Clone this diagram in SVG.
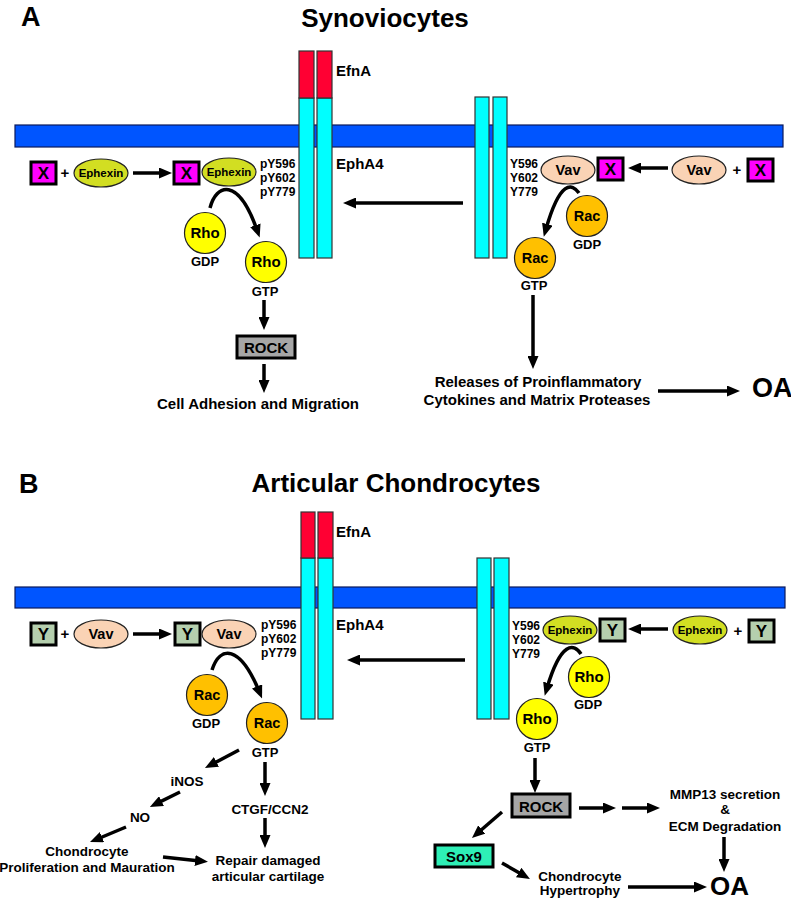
<svg xmlns="http://www.w3.org/2000/svg" width="791" height="900" viewBox="0 0 791 900">
<defs>
<style>
text{font-family:"Liberation Sans",Arial,sans-serif;font-weight:bold;fill:#000}
.mem{fill:#0055FF;stroke:#0A1A5C;stroke-width:1.2}
.red{fill:#FF0033;stroke:#333;stroke-width:1.2}
.cy{fill:#00FFFF;stroke:#333;stroke-width:1.2}
.xb{fill:#FF00FF;stroke:#000;stroke-width:3}
.yb{fill:#B5CFAE;stroke:#000;stroke-width:3}
.eph{fill:#D2DE22;stroke:#222;stroke-width:1.2}
.vav{fill:#FAD3B5;stroke:#222;stroke-width:1.2}
.rac{fill:#FFC000;stroke:#222;stroke-width:1.2}
.rho{fill:#FFFF00;stroke:#222;stroke-width:1.2}
.rock{fill:#A6A6A6;stroke:#000;stroke-width:3}
.sox{fill:#2EEFB6;stroke:#000;stroke-width:3}
.c{text-anchor:middle}
.lbl{font-size:15px}
.sm{font-size:12px}
.b2{font-size:13.5px}
.gt{font-size:13px;text-anchor:middle}
.big{font-size:27px}
.ttl{font-size:26px;text-anchor:middle}
.ar{fill:none;stroke:#000;stroke-width:3.5;marker-end:url(#ah)}
</style>
<marker id="ah" markerUnits="userSpaceOnUse" viewBox="0 0 13 11" markerWidth="13" markerHeight="11" refX="5" refY="5.5" orient="auto"><path d="M0,0 L13,5.5 L0,11 z" fill="#000"/></marker>
</defs>

<!-- Panel A -->
<text x="21" y="26" class="big">A</text>
<text x="385" y="27" class="ttl">Synoviocytes</text>
<rect id="membraneA" class="mem" x="15" y="125" width="768" height="22"/>
<g id="ephA4_A">
<rect class="cy" x="299" y="98" width="15" height="160"/>
<rect class="cy" x="317" y="98" width="15" height="160"/>
<rect class="red" x="299" y="51" width="15" height="47"/>
<rect class="red" x="317" y="51" width="15" height="47"/>
<text x="336" y="76" class="lbl">EfnA</text>
<text x="336" y="169" class="lbl">EphA4</text>
<text x="260" y="168" class="sm">pY596</text>
<text x="260" y="182" class="sm">pY602</text>
<text x="260" y="196" class="sm">pY779</text>
</g>
<g id="receptorRightA">
<rect class="cy" x="475" y="97" width="14" height="161"/>
<rect class="cy" x="493" y="97" width="14" height="161"/>
<text x="510" y="168" class="sm">Y596</text>
<text x="510" y="182" class="sm">Y602</text>
<text x="510" y="196" class="sm">Y779</text>
</g>
<g id="xA1"><rect class="xb" x="31" y="162" width="25" height="22"/><text x="43.5" y="179" class="c" font-size="17">X</text></g>
<text x="65" y="178" class="c lbl">+</text>
<g id="ephexinA1"><ellipse class="eph" cx="101" cy="173" rx="27" ry="14"/><text x="101" y="177" class="c" font-size="11.5">Ephexin</text></g>
<g id="xA2"><rect class="xb" x="174" y="162" width="25" height="22"/><text x="186.5" y="179" class="c" font-size="17">X</text></g>
<g id="ephexinA2"><ellipse class="eph" cx="229" cy="172" rx="27" ry="14"/><text x="229" y="176" class="c" font-size="11.5">Ephexin</text></g>
<g id="rhoGDP_A"><circle class="rho" cx="205" cy="233" r="20.5"/><text x="205" y="238" class="c lbl">Rho</text><text x="205" y="266" class="gt">GDP</text></g>
<g id="rhoGTP_A"><circle class="rho" cx="266" cy="262" r="20.5"/><text x="266" y="267" class="c lbl">Rho</text><text x="265" y="296" class="gt">GTP</text></g>
<g id="rockA"><rect class="rock" x="237" y="336" width="58" height="22"/><text x="266" y="353" class="c lbl">ROCK</text></g>
<text id="adhesion" x="258" y="409" class="c lbl">Cell Adhesion and Migration</text>
<g id="vavA1"><ellipse class="vav" cx="568" cy="170" rx="27" ry="14"/><text x="568" y="175" class="c" font-size="14.5">Vav</text></g>
<g id="xA3"><rect class="xb" x="598" y="158" width="25" height="22"/><text x="610.5" y="175" class="c" font-size="17">X</text></g>
<g id="vavA2"><ellipse class="vav" cx="699" cy="170" rx="27" ry="14"/><text x="699" y="175" class="c" font-size="14.5">Vav</text></g>
<text x="737" y="175" class="c lbl">+</text>
<g id="xA4"><rect class="xb" x="748" y="159" width="25" height="22"/><text x="760.5" y="176" class="c" font-size="17">X</text></g>
<g id="racGDP_A"><circle class="rac" cx="587" cy="216" r="20.5"/><text x="587" y="221" class="c" font-size="14.5">Rac</text><text x="587" y="249" class="gt">GDP</text></g>
<g id="racGTP_A"><circle class="rac" cx="535" cy="258" r="20.5"/><text x="535" y="263" class="c" font-size="14.5">Rac</text><text x="534" y="290" class="gt">GTP</text></g>
<g id="releases"><text x="538" y="387" class="c lbl">Releases of Proinflammatory</text><text x="537" y="405" class="c lbl">Cytokines and Matrix Proteases</text></g>
<text id="oaA" x="752" y="397" class="big">OA</text>

<!-- Panel B -->
<text x="19" y="493" class="big">B</text>
<text x="396" y="492" class="ttl">Articular Chondrocytes</text>
<rect id="membraneB" class="mem" x="15" y="587" width="770" height="21"/>
<g id="ephA4_B">
<rect class="cy" x="301" y="558" width="14" height="161"/>
<rect class="cy" x="318" y="558" width="15" height="161"/>
<rect class="red" x="301" y="512" width="14" height="46"/>
<rect class="red" x="318" y="512" width="15" height="46"/>
<text x="336" y="537" class="lbl">EfnA</text>
<text x="336" y="630" class="lbl">EphA4</text>
<text x="261" y="629" class="sm">pY596</text>
<text x="261" y="643" class="sm">pY602</text>
<text x="261" y="657" class="sm">pY779</text>
</g>
<g id="receptorRightB">
<rect class="cy" x="477" y="558" width="14" height="161"/>
<rect class="cy" x="494" y="558" width="15" height="161"/>
<text x="512" y="630" class="sm">Y596</text>
<text x="512" y="644" class="sm">Y602</text>
<text x="512" y="658" class="sm">Y779</text>
</g>
<g id="yB1"><rect class="yb" x="31" y="623" width="25" height="22"/><text x="43.5" y="640" class="c" font-size="17">Y</text></g>
<text x="65" y="639" class="c lbl">+</text>
<g id="vavB1"><ellipse class="vav" cx="101" cy="634" rx="27" ry="14"/><text x="101" y="639" class="c" font-size="14.5">Vav</text></g>
<g id="yB2"><rect class="yb" x="175" y="623" width="25" height="22"/><text x="187.5" y="640" class="c" font-size="17">Y</text></g>
<g id="vavB2"><ellipse class="vav" cx="229" cy="634" rx="27" ry="14"/><text x="229" y="639" class="c" font-size="14.5">Vav</text></g>
<g id="racGDP_B"><circle class="rac" cx="207" cy="695" r="20.5"/><text x="207" y="700" class="c" font-size="14.5">Rac</text><text x="206" y="728" class="gt">GDP</text></g>
<g id="racGTP_B"><circle class="rac" cx="267" cy="723" r="20.5"/><text x="267" y="728" class="c" font-size="14.5">Rac</text><text x="265" y="757" class="gt">GTP</text></g>
<text id="inos" x="187" y="786" class="c b2">iNOS</text>
<text id="no" x="140" y="822" class="c b2">NO</text>
<g id="prolif"><text x="87" y="856" class="c b2">Chondrocyte</text><text x="87" y="872" class="c b2">Proliferation and Mauration</text></g>
<text id="ctgf" x="270" y="814" class="c b2">CTGF/CCN2</text>
<g id="repair"><text x="268" y="865" class="c b2">Repair damaged</text><text x="268" y="881" class="c b2">articular cartilage</text></g>
<g id="ephexinB1"><ellipse class="eph" cx="570" cy="630" rx="27" ry="14"/><text x="570" y="634" class="c" font-size="11.5">Ephexin</text></g>
<g id="yB3"><rect class="yb" x="600" y="619" width="25" height="22"/><text x="612.5" y="636" class="c" font-size="17">Y</text></g>
<g id="ephexinB2"><ellipse class="eph" cx="700" cy="630" rx="27" ry="14"/><text x="700" y="634" class="c" font-size="11.5">Ephexin</text></g>
<text x="738" y="636" class="c lbl">+</text>
<g id="yB4"><rect class="yb" x="749" y="620" width="25" height="22"/><text x="761.5" y="637" class="c" font-size="17">Y</text></g>
<g id="rhoGDP_B"><circle class="rho" cx="589" cy="677" r="20.5"/><text x="589" y="682" class="c lbl">Rho</text><text x="588" y="709" class="gt">GDP</text></g>
<g id="rhoGTP_B"><circle class="rho" cx="537" cy="719" r="20.5"/><text x="537" y="724" class="c lbl">Rho</text><text x="537" y="752" class="gt">GTP</text></g>
<g id="rockB"><rect class="rock" x="512" y="794" width="58" height="23"/><text x="541" y="812" class="c lbl">ROCK</text></g>
<g id="mmp13"><text x="725" y="799" class="c b2">MMP13 secretion</text><text x="725" y="814" class="c b2">&amp;</text><text x="725" y="831" class="c b2">ECM Degradation</text></g>
<g id="sox9"><rect class="sox" x="435" y="845" width="58" height="22"/><text x="464" y="862" class="c lbl">Sox9</text></g>
<g id="hypertrophy"><text x="580" y="881" class="c b2">Chondrocyte</text><text x="580" y="895" class="c b2">Hypertrophy</text></g>
<text id="oaB" x="710" y="895" font-size="26">OA</text>

<g id="connectors">
<line class="ar" x1="133" y1="173" x2="164" y2="173"/>
<line class="ar" x1="463" y1="203" x2="351" y2="203"/>
<line class="ar" x1="668" y1="168" x2="636" y2="168"/>
<line class="ar" x1="264" y1="300" x2="264" y2="322"/>
<line class="ar" x1="264" y1="364" x2="264" y2="385"/>
<line class="ar" x1="533" y1="295" x2="533" y2="361"/>
<line class="ar" x1="658" y1="391" x2="732" y2="391"/>
<path class="ar" d="M210,208 C216,184 238,176 257,230"/>
<path class="ar" d="M579,193 C572,183 560,180 546,229"/>
<line class="ar" x1="133" y1="634" x2="164" y2="634"/>
<line class="ar" x1="465" y1="660" x2="355" y2="660"/>
<line class="ar" x1="668" y1="629" x2="636" y2="629"/>
<path class="ar" d="M212,670 C220,645 240,645 259,691"/>
<path class="ar" d="M581,654 C574,643 561,641 547,688"/>
<line class="ar" x1="239" y1="750" x2="212" y2="764.3"/>
<line class="ar" x1="180" y1="792" x2="157" y2="803.4"/>
<line class="ar" x1="126" y1="827" x2="97.4" y2="839"/>
<line class="ar" x1="265" y1="762" x2="265" y2="788"/>
<line class="ar" x1="265" y1="818" x2="265" y2="840"/>
<line class="ar" x1="163" y1="857" x2="200" y2="861"/>
<line class="ar" x1="535" y1="758" x2="535" y2="785"/>
<line class="ar" x1="579" y1="808" x2="608" y2="808"/>
<line class="ar" x1="622" y1="808" x2="652" y2="808"/>
<line class="ar" x1="724" y1="837" x2="724" y2="864"/>
<line class="ar" x1="502" y1="812" x2="478" y2="832.8"/>
<line class="ar" x1="502" y1="863" x2="523" y2="875"/>
<line class="ar" x1="628" y1="887" x2="699" y2="887"/>
</g>
</svg>
